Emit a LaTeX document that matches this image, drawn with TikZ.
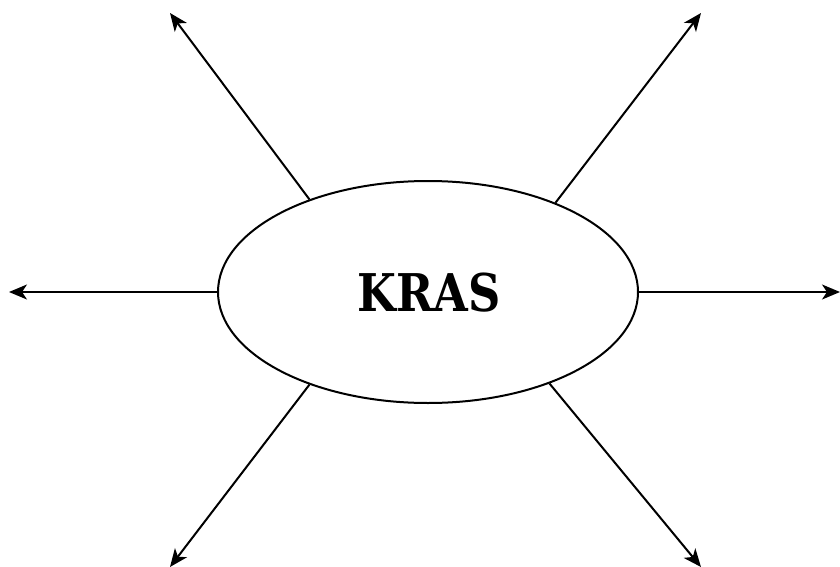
\documentclass[tikz,border=0pt]{standalone}
\usepackage{fontspec}
\newfontfamily\slab{DejaVu Serif}
\usetikzlibrary{shapes.geometric,arrows.meta}
\begin{document}
\begin{tikzpicture}[x=1pt,y=-1pt,
  conn/.style={line width=2pt,-{Stealth[length=18pt,width=15pt,inset=5pt]}},
  hub/.style={ellipse,draw,line width=2pt,minimum width=420pt,minimum height=222pt,inner sep=0pt}]
\useasboundingbox (0,0) rectangle (840,567);
\node[hub] (k) at (428,292) {};
\node (t) at (429,293) {\scalebox{0.86}[1]{\fontsize{52}{60}\selectfont\slab\bfseries KRAS}};
\coordinate (l) at (9,292);
\coordinate (r) at (840,292);
\coordinate (ul) at (170,13);
\coordinate (ur) at (701,13);
\coordinate (ll) at (170,567);
\coordinate (lr) at (701,567);
\draw[conn] (k.west) -- (l);
\draw[conn] (k.east) -- (r);
\draw[conn] (k.142) -- (ul);
\draw[conn] (k.35.9) -- (ur);
\draw[conn] (k.218.2) -- (ll);
\draw[conn] (k.323.5) -- (lr);
\end{tikzpicture}
\end{document}
